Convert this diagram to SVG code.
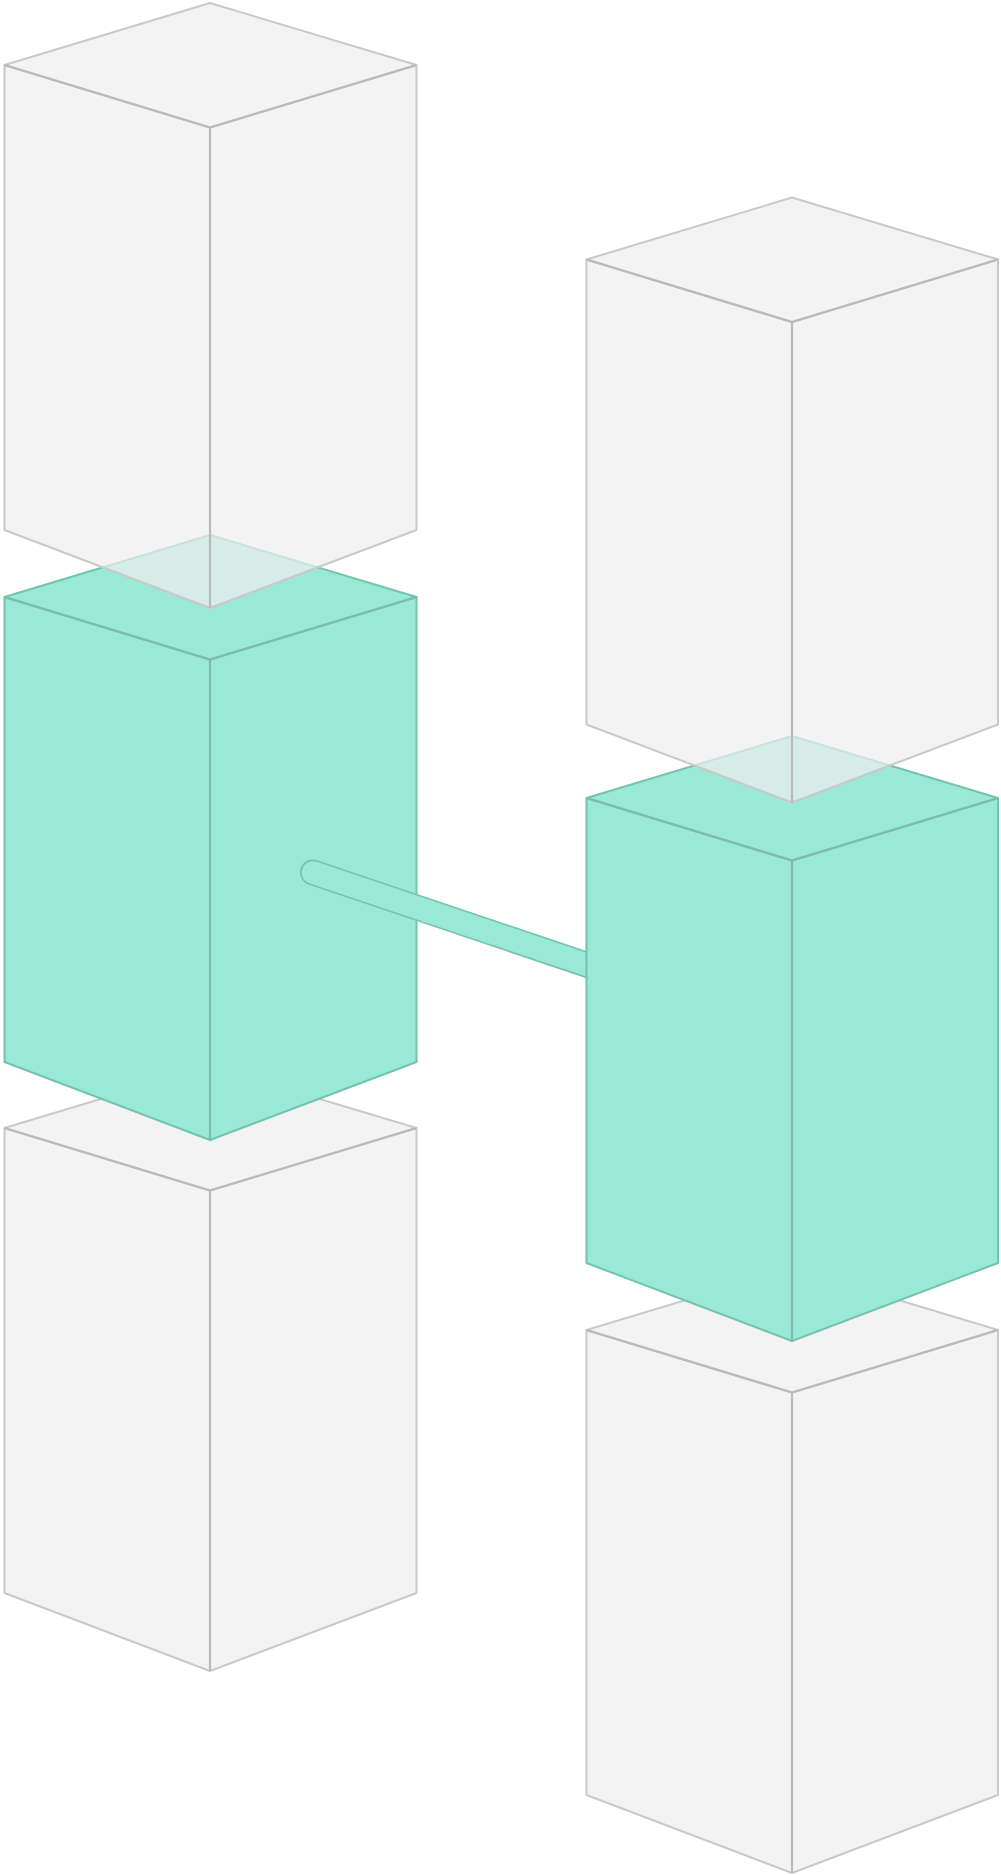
<svg xmlns="http://www.w3.org/2000/svg" width="1001" height="1875" viewBox="0 0 1001 1875">
  <style>
    .gf { fill: #eeeeee; fill-opacity: 0.7; stroke: #c9c9c9; stroke-width: 2; stroke-linejoin: round; }
    .gi { fill: none; stroke: #bababa; stroke-width: 2.2; stroke-linejoin: round; }
    .tf { fill: #9ae8d6; stroke: #72c4ae; stroke-width: 2; stroke-linejoin: round; }
    .ti { fill: none; stroke: #7ebdae; stroke-width: 2.2; stroke-linejoin: round; }
    .bar-o { stroke: #7cc2b0; stroke-width: 26; stroke-linecap: round; fill: none; }
    .bar-i { stroke: #9ae8d6; stroke-width: 22.5; stroke-linecap: round; fill: none; }
  </style>
  <rect width="1001" height="1875" fill="#ffffff"/>

  <!-- bottom gray boxes (back) -->
  <g id="box-left-bottom">
    <polygon class="gf" points="4.5,1128 210,1190.5 210,1671 4.5,1593"/>
    <polygon class="gf" points="210,1190.5 416.5,1128 416.5,1593 210,1671"/>
    <polygon class="gf" points="210,1066 416.5,1128 210,1190.5 4.5,1128"/>
    <path class="gi" d="M4.5,1128 L210,1190.5 L416.5,1128 M210,1190.5 L210,1671"/>
  </g>
  <g id="box-right-bottom">
    <polygon class="gf" points="586.5,1330 792,1392.5 792,1873 586.5,1795"/>
    <polygon class="gf" points="792,1392.5 998,1330 998,1795 792,1873"/>
    <polygon class="gf" points="792,1268 998,1330 792,1392.5 586.5,1330"/>
    <path class="gi" d="M586.5,1330 L792,1392.5 L998,1330 M792,1392.5 L792,1873"/>
  </g>

  <!-- left green box -->
  <g id="box-left-green">
    <polygon class="tf" points="4.5,597 210,659.5 210,1140 4.5,1062"/>
    <polygon class="tf" points="210,659.5 416.5,597 416.5,1062 210,1140"/>
    <polygon class="tf" points="210,535 416.5,597 210,659.5 4.5,597"/>
    <path class="ti" d="M4.5,597 L210,659.5 L416.5,597 M210,659.5 L210,1140"/>
  </g>

  <!-- connector bar -->
  <g id="connectors">
    <line class="bar-o" x1="313" y1="872.5" x2="640" y2="982.7"/>
    <line class="bar-i" x1="313" y1="872.5" x2="640" y2="982.7"/>
  </g>

  <!-- right green box -->
  <g id="box-right-green">
    <polygon class="tf" points="586.5,798 792,860.5 792,1341 586.5,1263"/>
    <polygon class="tf" points="792,860.5 998,798 998,1263 792,1341"/>
    <polygon class="tf" points="792,736 998,798 792,860.5 586.5,798"/>
    <path class="ti" d="M586.5,798 L792,860.5 L998,798 M792,860.5 L792,1341"/>
  </g>

  <!-- top gray boxes (front, translucent) -->
  <g id="box-left-top">
    <polygon class="gf" points="4.5,65 210,127.5 210,608 4.5,530"/>
    <polygon class="gf" points="210,127.5 416.5,65 416.5,530 210,608"/>
    <polygon class="gf" points="210,3 416.5,65 210,127.5 4.5,65"/>
    <path class="gi" d="M4.5,65 L210,127.5 L416.5,65 M210,127.5 L210,608"/>
  </g>
  <g id="box-right-top">
    <polygon class="gf" points="586.5,259.5 792,322 792,802.5 586.5,724.5"/>
    <polygon class="gf" points="792,322 998,259.5 998,724.5 792,802.5"/>
    <polygon class="gf" points="792,197.5 998,259.5 792,322 586.5,259.5"/>
    <path class="gi" d="M586.5,259.5 L792,322 L998,259.5 M792,322 L792,802.5"/>
  </g>
</svg>
